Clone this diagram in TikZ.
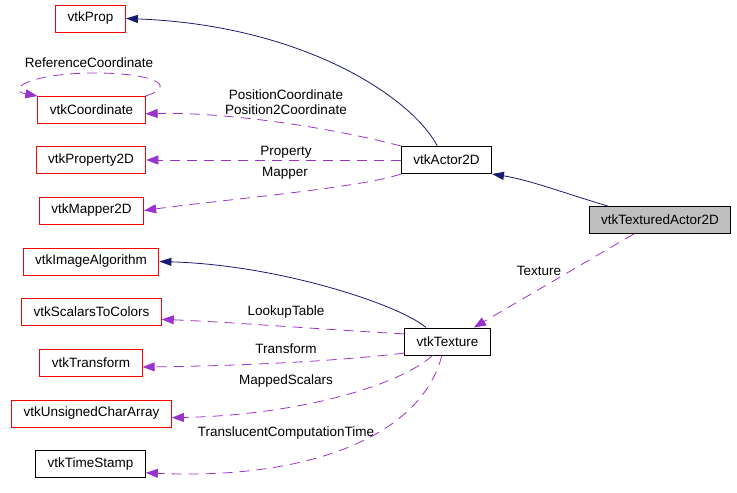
\documentclass[tikz,border=0pt]{standalone}
\usepackage{fontspec}
\setmainfont{Liberation Sans}
\usetikzlibrary{arrows.meta}
\definecolor{edgenavy}{HTML}{191970}
\definecolor{edgepurple}{HTML}{9A32CD}
\definecolor{boxgray}{HTML}{BFBFBF}

\begin{document}
\begin{tikzpicture}[x=1pt,y=-1pt,every node/.style={font=\fontsize{13.5}{15}\selectfont},
    cls/.style={draw=black,line width=1pt,inner xsep=12pt,inner ysep=0pt,minimum height=27pt},
    ext/.style={cls,draw=red},
    inherit/.style={edgenavy,line width=.8pt,-{Triangle[length=12pt,width=8pt]}},
    member/.style={edgepurple,line width=.8pt,dash pattern=on 10pt off 7pt,-{Triangle[length=12pt,width=9pt]}},
    lbl/.style={inner sep=0pt,align=center}]
    \useasboundingbox (0,0) rectangle (737,493);
    % Clases del grafo de colaboración.
    \node[ext] (prop) at (90.5,18.5) {vtkProp};
    \node[ext] (coord) at (91.5,110) {vtkCoordinate};
    \node[ext] (prop2d) at (91,160) {vtkProperty2D};
    \node[ext] (mapper) at (91.5,210.5) {vtkMapper2D};
    \node[cls] (actor) at (446.5,160) {vtkActor2D};
    \node[cls,fill=boxgray] (textured) at (660,220) {vtkTexturedActor2D};
    \node[ext] (imgalg) at (91,261.5) {vtkImageAlgorithm};
    \node[ext] (s2c) at (91.5,312) {vtkScalarsToColors};
    \node[ext] (transform) at (91,362.5) {vtkTransform};
    \node[ext] (uca) at (91.5,413.5) {vtkUnsignedCharArray};
    \node[cls] (tstamp) at (90.5,464) {vtkTimeStamp};
    \node[cls] (texture) at (447.5,341.5) {vtkTexture};

    \draw[inherit] (actor.123) .. controls (410,95) and (300,25) .. (prop.east);
    \draw[inherit] (textured.165) .. controls (570,195) and (530,180) .. (actor.south east);
    \draw[inherit] (texture.147) .. controls (400,305) and (280,265) .. (imgalg.east);

    \draw[member] (coord.north east) .. controls (180,85) and (150,73) .. (95,73)
        .. controls (30,73) and (5,90) .. (coord.north west);
    \draw[member] (actor.north west) .. controls (320,125) and (220,112) .. (coord.-4);
    \draw[member] (actor.west) -- (prop2d.east);
    \draw[member] (actor.south west) .. controls (360,188) and (220,200) .. (mapper.east);
    \draw[member] (textured.208) -- (texture.28);
    \draw[member] (texture.170) .. controls (330,330) and (230,322) .. (s2c.-6);
    \draw[member] (texture.195) .. controls (330,362) and (230,366) .. (transform.-5);
    \draw[member] (texture.223) .. controls (400,385) and (300,415) .. (uca.-3);
    \draw[member] (texture.248) .. controls (420,440) and (300,480) .. (tstamp.-9);

    \node[lbl] (lrefc) at (89,63) {ReferenceCoordinate};
    \node[lbl] (lposc) at (286,102.5) {PositionCoordinate\\Position2Coordinate};
    \node[lbl] (lprop) at (286,152) {Property};
    \node[lbl] (lmap) at (285,173) {Mapper};
    \node[lbl] (ltex) at (539,271) {Texture};
    \node[lbl] (llut) at (286,312) {LookupTable};
    \node[lbl] (ltrans) at (286,349) {Transform};
    \node[lbl] (lms) at (286,381) {MappedScalars};
    \node[lbl] (ltct) at (286,433) {TranslucentComputationTime};
\end{tikzpicture}
\end{document}
